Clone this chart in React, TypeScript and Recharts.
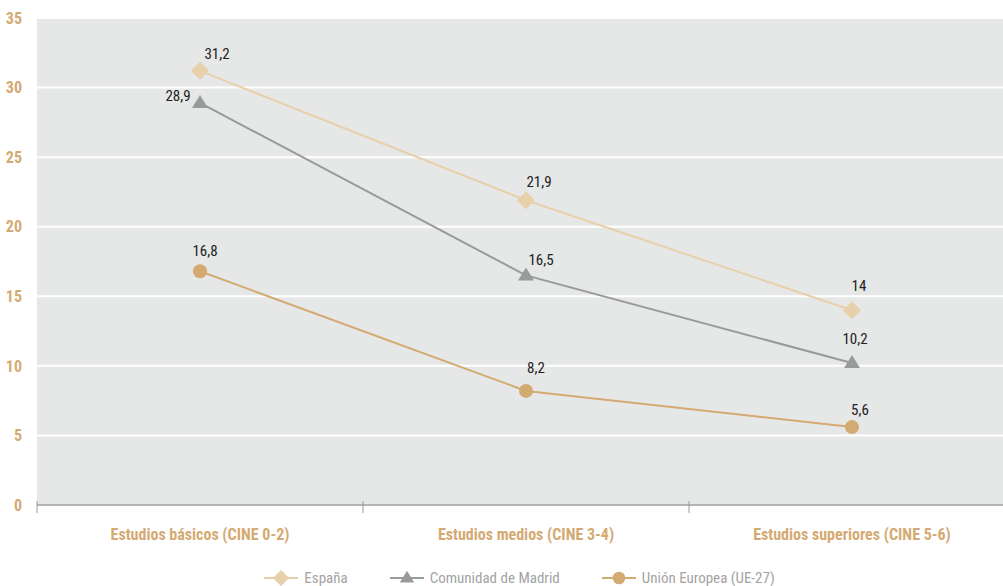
import { LineChart, Line, XAxis, YAxis, CartesianGrid, Legend, LabelList } from 'recharts';

const categories = ['Estudios básicos (CINE 0-2)', 'Estudios medios (CINE 3-4)', 'Estudios superiores (CINE 5-6)'];
const espana = [31.2, 21.9, 14];
const madrid = [28.9, 16.5, 10.2];
const ue27 = [16.8, 8.2, 5.6];
const yTicks = [0, 5, 10, 15, 20, 25, 30, 35];

const data = categories.map((c, i) => ({ cat: c, espana: espana[i], madrid: madrid[i], ue: ue27[i] }));

const FONT = '"Liberation Sans Narrow", "Roboto Condensed", "Arial Narrow", sans-serif';
const TAN = '#d4aa73';
const BEIGE = '#e8d0ab';
const GRAY = '#999a9a';
const BAND = 326;

const fmt = (v: number) => String(v).replace('.', ',');

// label offsets relative to the point, per series
const labelOffsets: Record<string, [number, number][]> = {
  espana: [[17, -12], [13, -13], [7, -19]],
  madrid: [[-22, -2], [15, -10], [3, -19]],
  ue: [[5, -15], [10, -18], [8, -12]],
};

const makeLabel = (key: string) => (props: any) => {
  const { x, y, value, index } = props;
  const [dx, dy] = labelOffsets[key][index];
  return (
    <text x={x + dx} y={y + dy} textAnchor="middle" fontSize={15} fill="#222" fontFamily={FONT}>
      {fmt(value)}
    </text>
  );
};

const Diamond = ({ cx, cy, fill }: any) => (
  <path d={`M${cx},${cy - 9} L${cx + 9},${cy} L${cx},${cy + 9} L${cx - 9},${cy} Z`} fill={fill} />
);
const Triangle = ({ cx, cy, fill }: any) => (
  <path d={`M${cx},${cy - 8} L${cx + 8},${cy + 5} L${cx - 8},${cy + 5} Z`} fill={fill} />
);
const Circle = ({ cx, cy, fill }: any) => <circle cx={cx} cy={cy} r={7} fill={fill} />;

const XTick = ({ x, y, payload }: any) => (
  <g>
    <line x1={x - BAND / 2} y1={y - 12} x2={x - BAND / 2} y2={y} stroke={GRAY} strokeWidth={1} />
    <text x={x} y={y + 27} textAnchor="middle" fontSize={16} fontWeight="bold" fill={TAN} fontFamily={FONT}>
      {payload.value}
    </text>
  </g>
);

const legendItems = [
  { name: 'España', color: BEIGE, Icon: Diamond },
  { name: 'Comunidad de Madrid', color: GRAY, Icon: Triangle },
  { name: 'Unión Europea (UE-27)', color: TAN, Icon: Circle },
];

const LegendContent = () => (
  <div style={{ display: 'flex', justifyContent: 'center', gap: 42, paddingLeft: 24, fontFamily: FONT, height: 20 }}>
    {legendItems.map(({ name, color, Icon }) => (
      <div key={name} style={{ display: 'flex', alignItems: 'center' }}>
        <svg width={34} height={20}>
          <line x1={0} y1={10} x2={34} y2={10} stroke={color} strokeWidth={2} />
          <g transform="translate(17,10) scale(0.9) translate(-17,-10)">
            <Icon cx={17} cy={10} fill={color} />
          </g>
        </svg>
        <span style={{ marginLeft: 6, fontSize: 15, color: '#a3a3a3' }}>{name}</span>
      </div>
    ))}
  </div>
);

export default function App() {
  return (
    <div style={{ position: 'absolute', left: 0, top: 0, width: 1003, height: 586, overflow: 'hidden', background: '#fff' }}>
      <LineChart width={1015} height={586} data={data} margin={{ top: 18, right: 0, bottom: 0, left: 0 }}>
        <CartesianGrid vertical={false} stroke="#ffffff" strokeWidth={2} fill="#e6e7e7" />
        <XAxis
          dataKey="cat"
          scale="band"
          axisLine={{ stroke: GRAY, strokeWidth: 1.5 }}
          tickLine={false}
          tick={<XTick />}
          height={61}
          interval={0}
        />
        <YAxis
          domain={[0, 35]}
          ticks={yTicks}
          width={37}
          axisLine={false}
          tickLine={false}
          tick={{ fill: TAN, fontSize: 16, fontWeight: 'bold', fontFamily: FONT }}
          tickMargin={9}
        />
        <Legend verticalAlign="bottom" content={<LegendContent />} wrapperStyle={{ bottom: -2 }} />
        <Line dataKey="espana" name="España" stroke={BEIGE} strokeWidth={2} dot={<Diamond fill={BEIGE} />} activeDot={false} isAnimationActive={false}>
          <LabelList dataKey="espana" content={makeLabel('espana')} />
        </Line>
        <Line dataKey="madrid" name="Comunidad de Madrid" stroke={GRAY} strokeWidth={2} dot={<Triangle fill={GRAY} />} activeDot={false} isAnimationActive={false}>
          <LabelList dataKey="madrid" content={makeLabel('madrid')} />
        </Line>
        <Line dataKey="ue" name="Unión Europea (UE-27)" stroke={TAN} strokeWidth={2} dot={<Circle fill={TAN} />} activeDot={false} isAnimationActive={false}>
          <LabelList dataKey="ue" content={makeLabel('ue')} />
        </Line>
      </LineChart>
    </div>
  );
}
